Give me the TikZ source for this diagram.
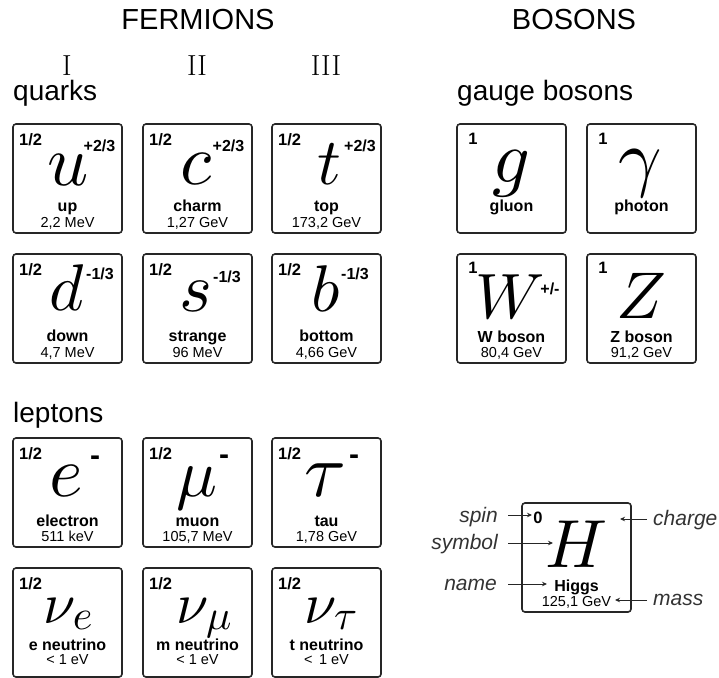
\documentclass[tikz,border=0pt]{standalone}
\usepackage{fontspec}
\setmainfont{Liberation Sans}
\newfontfamily\lmroman{Latin Modern Roman}
\DeclareFontShape{OML}{cmm}{m}{it}{<->cmmi10}{}
\DeclareFontShape{OMS}{cmsy}{m}{n}{<->cmsy10}{}
\DeclareFontShape{OMX}{cmex}{m}{n}{<->cmex10}{}
\DeclareFontShape{OT1}{cmr}{m}{n}{<->cmr10}{}
\usetikzlibrary{arrows.meta}
\tikzset{
  cellbox/.style={draw=black!85, line width=1.6pt, rounded corners=3pt,
    minimum width=109pt, minimum height=109pt, inner sep=0pt},
  pname/.style={anchor=base, inner sep=0pt, font=\fontsize{16}{17}\selectfont\bfseries},
  pmass/.style={anchor=base, inner sep=0pt, font=\fontsize{14.5}{15}\selectfont},
  spinf/.style={anchor=west, inner sep=0pt, font=\fontsize{16.5}{17}\selectfont\bfseries},
  spinb/.style={anchor=center, inner sep=0pt, font=\fontsize{16.5}{17}\selectfont\bfseries},
  chg/.style={anchor=center, inner sep=0pt, font=\fontsize{16}{17}\selectfont\bfseries},
  chgm/.style={anchor=center, inner sep=0pt, font=\fontsize{30}{30}\selectfont\bfseries},
  sym/.style={anchor=base, inner sep=0pt},
  head/.style={anchor=base, inner sep=0pt, font=\fontsize{29}{30}\selectfont},
  gen/.style={anchor=base, inner sep=0pt, font=\fontsize{29}{30}\selectfont\lmroman},
  group/.style={anchor=base west, inner sep=0pt, font=\fontsize{28}{29}\selectfont},
  legend/.style={inner sep=0pt, text=black!80, font=\fontsize{21}{22}\selectfont\itshape},
  lblarrow/.style={-{Stealth[length=5pt,width=4.5pt]}, line width=0.9pt, draw=black!85},
}
\newcommand\cell[7]{%
  \node[cellbox] (#1) at (#2+54.5,#3+54.5) {};
  \node[pname] (#1n) at (#2+54.5,#3+#6) {#4};
  \node[pmass] (#1m) at (#2+54.5,#3+#7) {#5};
}
\newcommand\nusub[1]{$\nu$\kern-3pt\lower6pt\hbox{\fontsize{42}{42}\selectfont$#1$}}
\begin{document}
\begin{tikzpicture}[x=1pt,y=-1pt]
\useasboundingbox (0,0) rectangle (719,677);

% headings
\node[head] (fermions) at (198,30) {FERMIONS};
\node[head] (bosons) at (574,30) {BOSONS};
\node[gen] (gI) at (67,75) {I};
\node[gen] (gII) at (197,75) {II};
\node[gen] (gIII) at (326,75) {III};
\node[group] (quarks) at (13,100) {quarks};
\node[group] (gauge) at (457,100) {gauge bosons};
\node[group] (leptons) at (13,422) {leptons};

% quarks row 1
\cell{u}{13}{124}{up}{2,2 MeV}{87.5}{103}
\node[spinf] (us) at (19,140) {1/2};
\node[sym, font=\fontsize{72}{72}\selectfont] (usym) at (68,185) {$u$};
\node[chg] (uc) at (99.5,145.5) {+2/3};

\cell{c}{143}{124}{charm}{1,27 GeV}{87.5}{103}
\node[spinf] (cs) at (149,140) {1/2};
\node[sym, font=\fontsize{72}{72}\selectfont] (csym) at (196,184) {$c$};
\node[chg] (cc) at (228.5,145.5) {+2/3};

\cell{t}{272}{124}{top}{173,2 GeV}{87.5}{103}
\node[spinf] (ts) at (278,140) {1/2};
\node[sym, font=\fontsize{66}{66}\selectfont] (tsym) at (329,184) {$t$};
\node[chg] (tc) at (360,145.5) {+2/3};

% quarks row 2
\cell{d}{13}{254}{down}{4,7 MeV}{87.5}{103}
\node[spinf] (ds) at (19,270) {1/2};
\node[sym, font=\fontsize{66}{66}\selectfont] (dsym) at (67,310) {$d$};
\node[chg] (dc) at (100,274) {-1/3};

\cell{s}{143}{254}{strange}{96 MeV}{87.5}{103}
\node[spinf] (ss) at (149,270) {1/2};
\node[sym, font=\fontsize{70}{70}\selectfont] (ssym) at (196,311) {$s$};
\node[chg] (sc) at (227,277) {-1/3};

\cell{b}{272}{254}{bottom}{4,66 GeV}{87.5}{103}
\node[spinf] (bs) at (278,270) {1/2};
\node[sym, font=\fontsize{66}{66}\selectfont] (bsym) at (326,311) {$b$};
\node[chg] (bc) at (355,274) {-1/3};

% leptons
\cell{e}{13}{438}{electron}{511 keV}{88}{103}
\node[spinf] (es) at (19,454) {1/2};
\node[sym, font=\fontsize{72}{72}\selectfont] (esym) at (66,496) {$e$};
\node[chgm] (ec) at (95,461) {-};

\cell{mu}{143}{438}{muon}{105,7 MeV}{88}{103}
\node[spinf] (mus) at (149,454) {1/2};
\node[sym, font=\fontsize{68}{68}\selectfont] (musym) at (197,496) {$\mu$};
\node[chgm] (muc) at (224,460) {-};

\cell{tau}{272}{438}{tau}{1,78 GeV}{88}{103}
\node[spinf] (taus) at (278,454) {1/2};
\node[sym, font=\fontsize{76}{76}\selectfont] (tausym) at (325,496) {$\tau$};
\node[chgm] (tauc) at (354,460) {-};

% neutrinos
\cell{ne}{13}{568}{e neutrino}{< 1 eV}{82}{96.5}
\node[spinf] (nes) at (19,584) {1/2};
\node[sym, font=\fontsize{58}{58}\selectfont] (nesym) at (68,623) {\nusub{e}};

\cell{nm}{143}{568}{m neutrino}{< 1 eV}{82}{96.5}
\node[spinf] (nms) at (149,584) {1/2};
\node[sym, font=\fontsize{58}{58}\selectfont] (nmsym) at (204,623) {\nusub{\mu}};

\cell{nt}{272}{568}{t neutrino}{<\ \,1 eV}{82}{96.5}
\node[spinf] (nts) at (278,584) {1/2};
\node[sym, font=\fontsize{58}{58}\selectfont] (ntsym) at (331,623) {\nusub{\tau}};

% gauge bosons
\node[cellbox] (g) at (457+54.5,124+54.5) {};
\node[pname] (gn) at (511.5,211) {gluon};
\node[spinb] (gs) at (473,139) {1};
\node[sym, font=\fontsize{74}{74}\selectfont] (gsym) at (511,182) {$g$};

\node[cellbox] (gam) at (587+54.5,124+54.5) {};
\node[pname] (gamn) at (641.5,211) {photon};
\node[spinb] (gams) at (603,139) {1};
\node[sym, font=\fontsize{76}{76}\selectfont] (gamsym) at (640,182) {$\gamma$};

\cell{W}{457}{254}{W boson}{80,4 GeV}{88}{103}
\node[spinb] (Ws) at (473,268) {1};
\node[sym, font=\fontsize{64}{64}\selectfont] (Wsym) at (510,318) {$W$};
\node[chg] (Wc) at (550,289) {+/-};

\cell{Z}{587}{254}{Z boson}{91,2 GeV}{88}{103}
\node[spinb] (Zs) at (603,268) {1};
\node[sym, font=\fontsize{66}{66}\selectfont] (Zsym) at (641,318) {$Z$};

% Higgs legend
\cell{H}{522}{503}{Higgs}{125,1 GeV}{88}{103}
\node[spinb] (Hs) at (538,518) {0};
\node[sym, font=\fontsize{68}{68}\selectfont] (Hsym) at (577,567) {$H$};

\node[legend, anchor=base east] (lspin) at (498,522) {spin};
\node[legend, anchor=base east] (lsym) at (498,549) {symbol};
\node[legend, anchor=base east] (lname) at (497,590) {name};
\node[legend, anchor=base west] (lcharge) at (653,525) {charge};
\node[legend, anchor=base west] (lmass) at (653,605) {mass};

\coordinate (aspin1) at (508,515);   \coordinate (aspin2) at (532,515);
\coordinate (asym1) at (508,543);    \coordinate (asym2) at (553,543);
\coordinate (aname1) at (508,584);   \coordinate (aname2) at (547,584);
\coordinate (achg1) at (647,519);    \coordinate (achg2) at (620,519);
\coordinate (amass1) at (647,600);   \coordinate (amass2) at (615,600);
\draw[lblarrow] (aspin1) -- (aspin2);
\draw[lblarrow] (asym1) -- (asym2);
\draw[lblarrow] (aname1) -- (aname2);
\draw[lblarrow] (achg1) -- (achg2);
\draw[lblarrow] (amass1) -- (amass2);
\end{tikzpicture}
\end{document}
